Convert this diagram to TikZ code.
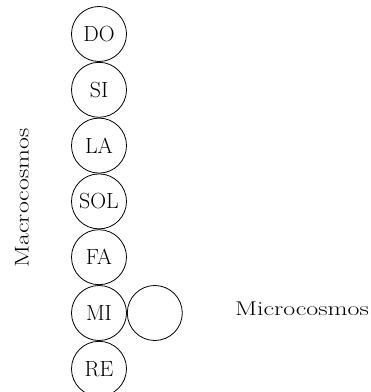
\documentclass[tikz,border=0pt]{standalone}
\usetikzlibrary{positioning}

\newcommand{\widetext}[1]{\scalebox{1.3}[1]{#1}}

\tikzset{
  note/.style={draw, circle, minimum size=55bp, inner sep=0pt, line width=0.8bp,
    font=\fontsize{22}{24}\selectfont},
  cosmos/.style={font=\fontsize{20}{22}\selectfont}
}

\begin{document}
\begin{tikzpicture}[x=1bp, y=1bp]
    \useasboundingbox (0,0) rectangle (371,392);

    % Scale of notes
    \node[note] (do) at (99,358) {DO};
    \node[note, below=0pt of do] (si) {SI};
    \node[note, below=0pt of si] (la) {LA};
    \node[note, below=0pt of la] (sol) {SOL};
    \node[note, below=0pt of sol] (fa) {FA};
    \node[note, below=0pt of fa] (mi) {MI};
    \node[note, below=0pt of mi] (re) {RE};

    % Small world beside MI
    \node[note, right=0pt of mi] (micro) {};

    % Labels
    \node[cosmos, rotate=90] (macrolabel) at (22,194) {\widetext{Macrocosmos}};
    \node[cosmos] (microlabel) at (302,83) {\widetext{Microcosmos}};
\end{tikzpicture}
\end{document}
